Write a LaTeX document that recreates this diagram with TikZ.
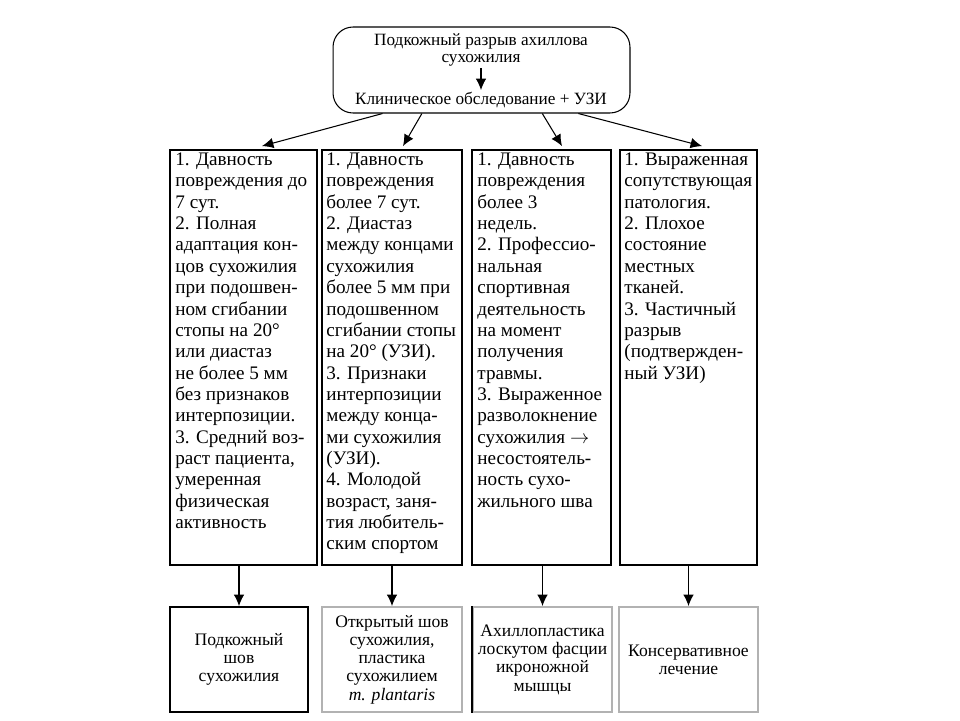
\documentclass[tikz,border=0pt]{standalone}
\usepackage{fontspec}
\setmainfont{Liberation Serif}
\usetikzlibrary{arrows.meta, calc, positioning}
\tikzset{
    topBox/.style={draw, rounded corners=0.4cm, line width=0.6pt, minimum width=5.94cm, minimum height=1.72cm, inner sep=0pt},
    topText/.style={align=center, inner sep=1pt, font=\fontsize{9.8}{9.8}\selectfont},
    critBox/.style={draw, line width=1.1pt, minimum height=8.3cm, inner sep=0pt},
    critText/.style={anchor=north west, align=left, inner sep=0pt, font=\fontsize{10.9}{12.15}\selectfont},
    treatBox/.style={draw, line width=1.1pt, minimum height=2.1cm, inner sep=0pt, align=center, font=\fontsize{10}{10.4}\selectfont},
    arrowLink/.style={-{Latex[length=6.5pt, width=6pt]}, line width=0.6pt},
}
\newcommand{\drawArrow}[2]{
    \draw[arrowLink] (#1) -- (#2);
}
\begin{document}
\begin{tikzpicture}[x=0.02cm, y=-0.02cm]
    \useasboundingbox (0,0) rectangle (960,720);

    \node[topBox] (top) at (481.5,70) {};
    \node[topText] (diag) at (481,50) {Подкожный разрыв ахиллова\\сухожилия};
    \node[topText] (exam) at (481,100) {Клиническое обследование + УЗИ};
    \drawArrow{diag.south}{exam.north}

    \node[critBox, minimum width=2.94cm] (c1) at (243.5,357.5) {};
    \node[critBox, minimum width=2.8cm] (c2) at (392,357.5) {};
    \node[critBox, minimum width=2.78cm] (c3) at (541.5,357.5) {};
    \node[critBox, minimum width=2.74cm] (c4) at (688.5,357.5) {};

    \node[critText] (t1) at ($(c1.north west)+(6,3.5)$) {1. Давность\\повреждения до\\7 сут.\\2. Полная\\адаптация кон-\\цов сухожилия\\при подошвен-\\ном сгибании\\стопы на 20°\\или диастаз\\не более 5 мм\\без признаков\\интерпозиции.\\3. Средний воз-\\раст пациента,\\умеренная\\физическая\\активность};
    \node[critText] (t2) at ($(c2.north west)+(5,3.5)$) {1. Давность\\повреждения\\более 7 сут.\\2. Диастаз\\между концами\\сухожилия\\более 5 мм при\\подошвенном\\сгибании стопы\\на 20° (УЗИ).\\3. Признаки\\интерпозиции\\между конца-\\ми сухожилия\\(УЗИ).\\4. Молодой\\возраст, заня-\\тия любитель-\\ским спортом};
    \node[critText] (t3) at ($(c3.north west)+(6,3.5)$) {1. Давность\\повреждения\\более 3\\недель.\\2. Профессио-\\нальная\\спортивная\\деятельность\\на момент\\получения\\травмы.\\3. Выраженное\\разволокнение\\сухожилия $\rightarrow$\\несостоятель-\\ность сухо-\\жильного шва};
    \node[critText] (t4) at ($(c4.north west)+(5,3.5)$) {1. Выраженная\\сопутствующая\\патология.\\2. Плохое\\состояние\\местных\\тканей.\\3. Частичный\\разрыв\\(подтвержден-\\ный УЗИ)};

    \drawArrow{$(top.south west)!0.168!(top.south east)$}{$(c1.north)+(18.5,-3)$}
    \drawArrow{$(top.south west)!0.30!(top.south east)$}{$(c2.north)+(11,-3)$}
    \drawArrow{$(top.south west)!0.704!(top.south east)$}{$(c3.north)+(20.5,-3)$}
    \drawArrow{$(top.south west)!0.825!(top.south east)$}{$(c4.north)+(13.5,-3)$}

    \node[treatBox, minimum width=2.76cm] (b1) at (239,659.5) {Подкожный\\шов\\сухожилия};
    \node[treatBox, draw=gray!60, minimum width=2.8cm] (b2) at (392,659.5) {Открытый шов\\сухожилия,\\пластика\\сухожилием\\\textit{m. plantaris}};
    \node[treatBox, draw=gray!60, minimum width=2.78cm] (b3) at (542.5,659.5) {Ахиллопластика\\лоскутом фасции\\икроножной\\мышцы};
    \node[treatBox, draw=gray!60, minimum width=2.78cm] (b4) at (688.5,659.5) {Консервативное\\лечение};
    \draw[line width=1.1pt] (b3.north west) -- (b3.south west);

    \drawArrow{b1.north |- c1.south}{b1.north}
    \drawArrow{b2.north |- c2.south}{b2.north}
    \drawArrow{b3.north |- c3.south}{b3.north}
    \drawArrow{b4.north |- c4.south}{b4.north}
\end{tikzpicture}
\end{document}
